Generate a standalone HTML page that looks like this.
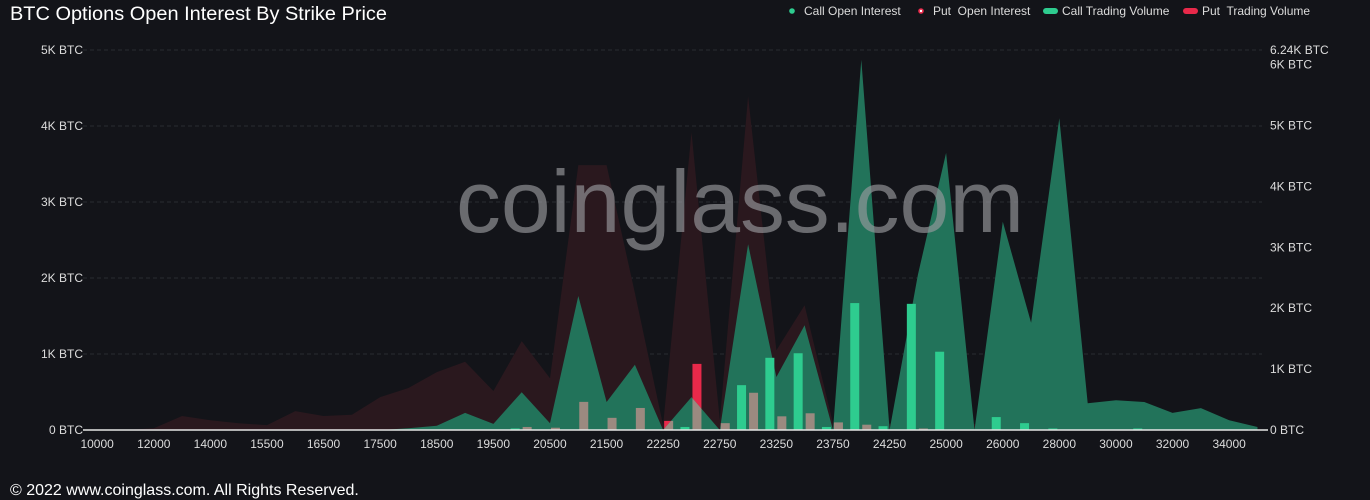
<!DOCTYPE html>
<html><head><meta charset="utf-8">
<style>
html,body{margin:0;padding:0;background:#131419;}
svg{display:block;font-family:"Liberation Sans",sans-serif;}
</style></head>
<body>
<svg id="chart" width="1370" height="500" viewBox="0 0 1370 500" xmlns="http://www.w3.org/2000/svg">
<rect x="0" y="0" width="1370" height="500" fill="#131419"/>
<text x="10" y="20" font-size="19" fill="#ffffff" textLength="377" lengthAdjust="spacingAndGlyphs">BTC Options Open Interest By Strike Price</text>
<g font-size="12" fill="#dcdcdc">
  <g><circle cx="792" cy="11" r="2.8" fill="#2ecc8f"/><text x="804" y="15">Call Open Interest</text></g>
  <g><circle cx="921" cy="11" r="2.8" fill="#e8294a"/><circle cx="921" cy="11" r="1.2" fill="#fff"/><text x="933" y="15">Put&#160; Open Interest</text></g>
  <g><rect x="1043" y="8" width="15" height="6" rx="3" fill="#2ecc8f"/><text x="1062" y="15">Call Trading Volume</text></g>
  <g><rect x="1183" y="8" width="15" height="6" rx="3" fill="#e8294a"/><text x="1202" y="15">Put&#160; Trading Volume</text></g>
</g>
<g id="grid"></g>
<g id="plot"></g>
<text x="740" y="232" font-size="88" fill="#9a9a9e" fill-opacity="0.65" textLength="568" lengthAdjust="spacingAndGlyphs" text-anchor="middle">coinglass.com</text>
<g id="axes"></g>
<text x="10" y="495" font-size="16" fill="#ffffff">© 2022 www.coinglass.com. All Rights Reserved.</text>
</svg>
<script>
const categories = [10000,11000,12000,13000,14000,15000,15500,16000,16500,17000,17500,18000,18500,19000,19500,20000,20500,21000,21500,22000,22250,22500,22750,23000,23250,23500,23750,24000,24250,24500,25000,25500,26000,27000,28000,29000,30000,31000,32000,33000,34000,35000];
const callOI = [0,0,0,0,0,0,0,0,0,0,0,0.03,0.07,0.28,0.1,0.62,0.11,2.2,0.46,1.07,0,0.54,0,3.05,0.87,1.72,0,6.08,0,2.55,4.55,0,3.42,1.76,5.12,0.44,0.49,0.46,0.28,0.36,0.16,0.05];
const putOI = [0,0,0.03,0.23,0.16,0.11,0.08,0.31,0.23,0.25,0.54,0.69,0.95,1.12,0.64,1.46,0.85,4.35,4.35,2.25,0.08,4.89,0.16,5.48,1.31,2.05,0.11,0.5,0.1,0.3,0.3,0.1,0.05,0.05,0.05,0.05,0.05,0.05,0.05,0.05,0.05,0.05];
const callVol = [0,0,0,0,0,0,0,0,0,0,0,0,0,0,0,0.02,0,0,0,0,0,0.04,0,0.59,0.95,1.01,0.04,1.67,0.05,1.66,1.03,0,0.17,0.09,0.02,0,0,0.02,0,0,0,0];
const putVol = [0,0,0,0,0,0,0,0,0,0,0,0,0,0,0,0.04,0.03,0.37,0.16,0.29,0.12,0.87,0.09,0.49,0.18,0.22,0.1,0.07,0,0.02,0,0,0,0,0,0,0,0,0,0,0,0];
const leftTicks = [0,1,2,3,4,5];
const leftTickLabels = ["0 BTC","1K BTC","2K BTC","3K BTC","4K BTC","5K BTC"];
const rightTicks = [0,1,2,3,4,5,6,6.24];
const rightTickLabels = ["0 BTC","1K BTC","2K BTC","3K BTC","4K BTC","5K BTC","6K BTC","6.24K BTC"];

const NS="http://www.w3.org/2000/svg";
const X0=83, BAND=28.3, Y0=430, TOP=50;
function xc(i){return X0+BAND*(i+0.5);}
function yL(v){return Y0-(v/5)*(Y0-TOP);}
function yR(v){return Y0-(v/6.24)*(Y0-TOP);}
function mk(tag,attrs,parent){const e=document.createElementNS(NS,tag);for(const k in attrs)e.setAttribute(k,attrs[k]);parent.appendChild(e);return e;}
const grid=document.getElementById('grid'), plot=document.getElementById('plot'), axes=document.getElementById('axes');

leftTicks.forEach((t,i)=>{
  const y=yL(t);
  if(t>0){const l=mk('line',{x1:X0,x2:1262,y1:y,y2:y,stroke:'#2a2b31','stroke-dasharray':'4 3'},grid);
  
  }
  const tx=mk('text',{x:X0,y:y+4,'font-size':12,fill:'#dcdcdc','text-anchor':'end'},axes);
  tx.textContent=leftTickLabels[i];
  
  
});
rightTicks.forEach((t,i)=>{
  const y=yR(t);
  const tx=mk('text',{x:1270,y:y+4,'font-size':12,fill:'#dcdcdc'},axes);
  tx.textContent=rightTickLabels[i];
  
  
});

function areaPath(vals){
  let d='M'+xc(0)+','+Y0;
  vals.forEach((v,i)=>{d+=' L'+xc(i).toFixed(1)+','+yR(v).toFixed(1);});
  d+=' L'+xc(vals.length-1)+','+Y0+' Z';return d;
}
const pArea=mk('path',{d:areaPath(putOI),fill:'#2a181e'},plot);



const defs=mk('defs',{},plot);
const cp=mk('clipPath',{id:'callclip'},defs);
mk('path',{d:areaPath(callOI)},cp);

putVol.forEach((v,i)=>{
  if(v<=0)return;
  const b=mk('rect',{x:xc(i)+1,y:yL(v),width:9,height:Y0-yL(v),fill:'#e8294a'},plot);
  
  
});
const cArea=mk('path',{d:areaPath(callOI),fill:'#22735a'},plot);


const tanG=mk('g',{'clip-path':'url(#callclip)'},plot);
putVol.forEach((v,i)=>{
  if(v<=0)return;
  const b=mk('rect',{x:xc(i)+1,y:yL(v),width:9,height:Y0-yL(v),fill:'#9b8a80'},tanG);
  
  
});
callVol.forEach((v,i)=>{
  if(v<=0)return;
  const b=mk('rect',{x:xc(i)-11,y:yL(v),width:9,height:Y0-yL(v),fill:'#2ecc8f'},plot);
  
  
});
const base=mk('line',{x1:X0,x2:1268,y1:Y0,y2:Y0,stroke:'#e6e6e6','stroke-width':1.5},axes);


categories.forEach((c,i)=>{
  if(i%2)return;
  const t=mk('text',{x:xc(i),y:448,'font-size':12,fill:'#dcdcdc','text-anchor':'middle'},axes);
  t.textContent=c;
  
  
});
</script>
</body></html>
